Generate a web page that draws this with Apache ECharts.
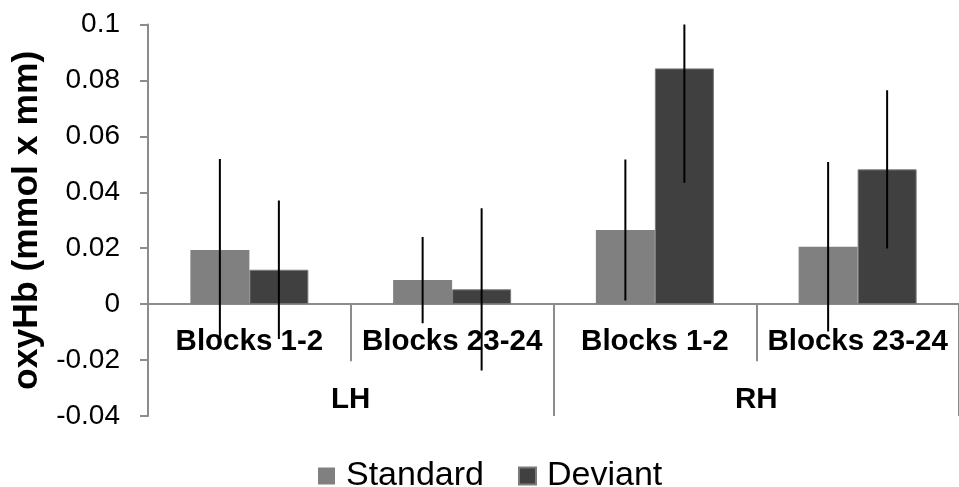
<!DOCTYPE html>
<html>
<head>
<meta charset="utf-8">
<script src="https://cdn.jsdelivr.net/npm/echarts@6/dist/echarts.min.js"></script>
<style>html,body{margin:0;padding:0;background:#fff}#c{width:959px;height:487px}</style>
</head>
<body>
<div id="c"></div>
<script>
var categories = ['Blocks 1-2', 'Blocks 23-24', 'Blocks 1-2', 'Blocks 23-24'];
var hemispheres = ['LH', 'RH'];
var standardMean = [0.0194, 0.0086, 0.0265, 0.0205];
var standardErr  = [0.0325, 0.0154, 0.0252, 0.0303];
var deviantMean  = [0.0123, 0.0053, 0.0843, 0.0482];
var deviantErr   = [0.0248, 0.0290, 0.0409, 0.0283];
var yTicks = { min: -0.04, max: 0.1, interval: 0.02 };

var FONT = 'Liberation Sans, Arial, sans-serif';
var BAR_W = 59;
var AXIS_C = '#8c8c8c';

function errData(mean, err) {
  return mean.map(function (m, i) { return [i, m - err[i], m + err[i]]; });
}
function errSeries(name, mean, err, offset) {
  return {
    type: 'custom',
    name: name + ' error',
    xAxisIndex: 0,
    clip: true,
    silent: true,
    z: 10,
    data: errData(mean, err),
    encode: { x: 0, y: [1, 2] },
    renderItem: function (params, api) {
      var lo = api.coord([api.value(0), api.value(1)]);
      var hi = api.coord([api.value(0), api.value(2)]);
      var x = lo[0] + offset;
      return {
        type: 'line',
        shape: { x1: x, y1: lo[1], x2: x, y2: hi[1] },
        style: { stroke: '#000', lineWidth: 2 }
      };
    }
  };
}

var chart = echarts.init(document.getElementById('c'));
chart.setOption({
  animation: false,
  textStyle: { fontFamily: FONT },
  grid: { left: 148, right: -8, top: 24.5, bottom: 71, containLabel: false },
  legend: {
    left: 313, top: 454,
    icon: 'rect', itemWidth: 17, itemHeight: 17, itemGap: 34,
    textStyle: { fontSize: 34, color: '#000', fontFamily: FONT, padding: [0, 0, 0, 6] },
    data: ['Standard', 'Deviant']
  },
  xAxis: [
    {
      type: 'category', data: categories,
      axisLine: { onZero: true, lineStyle: { color: AXIS_C, width: 2 } },
      axisTick: { show: true, interval: 0, length: 57, lineStyle: { color: AXIS_C, width: 2 } },
      axisLabel: { inside: true, interval: 0, margin: 59, fontSize: 29.5, fontWeight: 'bold', color: '#000', fontFamily: FONT },
      splitLine: { show: false }
    },
    {
      type: 'category', data: hemispheres, position: 'bottom',
      axisLine: { show: false, onZero: false },
      axisTick: { show: true, inside: true, interval: 0, length: 113, lineStyle: { color: AXIS_C, width: 2 } },
      axisLabel: { inside: true, interval: 0, margin: 1, fontSize: 29.5, fontWeight: 'bold', color: '#000', fontFamily: FONT },
      splitLine: { show: false }
    }
  ],
  yAxis: {
    type: 'value', min: yTicks.min, max: yTicks.max, interval: yTicks.interval,
    name: 'oxyHb (mmol x mm)', nameLocation: 'middle', nameRotate: 90, nameGap: 100,
    nameTextStyle: { fontSize: 35.5, fontWeight: 'bold', color: '#000', fontFamily: FONT },
    axisLine: { show: true, lineStyle: { color: AXIS_C, width: 2 } },
    axisTick: { show: true, length: 8, lineStyle: { color: AXIS_C, width: 2 } },
    axisLabel: { margin: 28, fontSize: 28, color: '#000', fontFamily: FONT },
    splitLine: { show: false }
  },
  series: [
    { type: 'bar', name: 'Standard', data: standardMean, barWidth: BAR_W, barGap: '0%',
      itemStyle: { color: '#808080' } },
    { type: 'bar', name: 'Deviant', data: deviantMean, barWidth: BAR_W, barGap: '0%',
      itemStyle: { color: '#404040', borderColor: '#7a7a7a', borderWidth: 1 } },
    errSeries('Standard', standardMean, standardErr, -BAR_W / 2),
    errSeries('Deviant', deviantMean, deviantErr, BAR_W / 2)
  ]
});
</script>
</body>
</html>
